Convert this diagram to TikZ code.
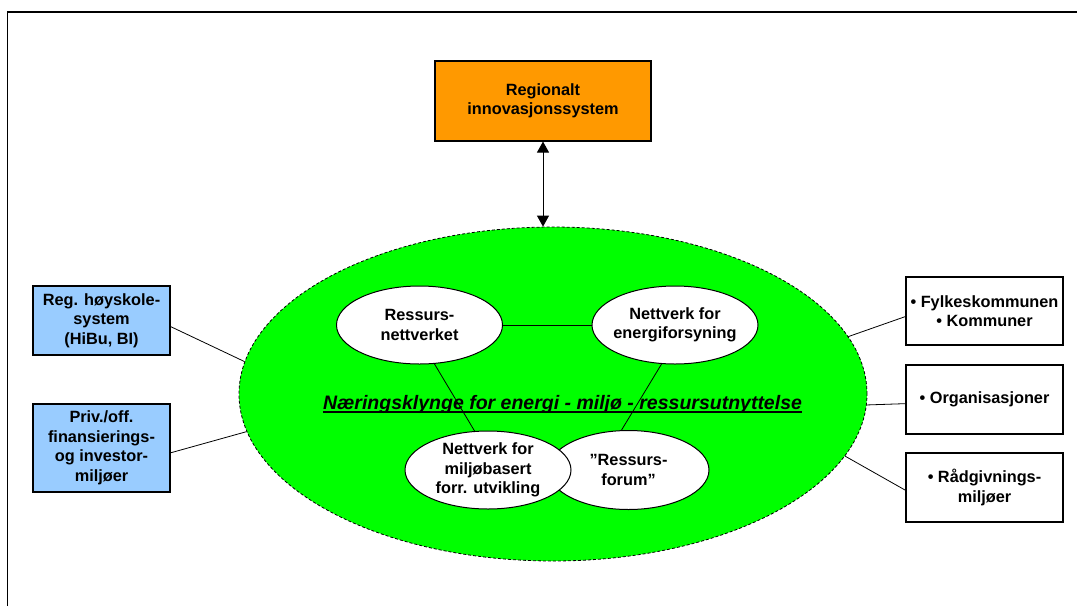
\documentclass[tikz,border=0pt]{standalone}
\usepackage{fontspec}
\setmainfont{Liberation Sans}
\usetikzlibrary{shapes.geometric,arrows.meta}
\definecolor{orangebox}{HTML}{FF9900}
\definecolor{bluebox}{HTML}{99CCFF}
\definecolor{clustergreen}{HTML}{00FF00}
\begin{document}
\begin{tikzpicture}[x=1pt,y=-1pt,
  txt/.style={font=\fontsize{16.3}{19.5}\selectfont\bfseries, align=center, inner sep=0pt},
  box/.style={txt, draw=black, line width=1.1pt, rectangle, minimum width=157, minimum height=68},
  lbox/.style={box, fill=bluebox, minimum width=137},
  ell/.style={txt, draw=black, line width=1pt, ellipse, fill=white, inner xsep=-6pt, minimum width=166, minimum height=78},
  conn/.style={draw=black, line width=0.8pt},
]
\useasboundingbox (0,0) rectangle (1077,606);
\draw[line width=1.6pt] (7.5,606) -- (7.5,12) -- (1077,12);

% top box
\node[box, fill=orangebox, minimum width=216, minimum height=80] (reg) at (543,101) {Regionalt\\innovasjonssystem};

% cluster
\node[ellipse, draw=black, dash pattern=on 3pt off 2pt, line width=0.8pt, fill=clustergreen,
      minimum width=628, minimum height=334, inner sep=0pt] (cl) at (553,394) {};

\draw[line width=1pt, {Triangle[length=11pt,width=12pt]}-{Triangle[length=11pt,width=12pt]}]
  (reg.south) -- (reg.south |- cl.north);

% inner ellipses
\node[ell] (rn) at (419.5,325) {Ressurs-\\nettverket};
\node[ell] (ef) at (675,325) {Nettverk for\\energiforsyning};
\node[ell, minimum width=161, minimum height=79] (rf) at (628.5,470) {”Ressurs-\\forum”};
\node[ell] (mb) at (488,470) {Nettverk for\\miljøbasert\\forr. utvikling};

% central text
\node[font=\fontsize{19.5}{23}\selectfont\bfseries\itshape, inner sep=0pt, anchor=base] (ct) at (562.5,409)
  {Næringsklynge for energi - miljø - ressursutnyttelse};
\draw[line width=1.3pt] ([yshift=-3pt]ct.base west) -- ([yshift=-3pt]ct.base east);

\draw[conn] (rn.east) -- (ef.west);
\draw[conn] (rn.-69) -- (mb.109);
\draw[conn] (ef.-109) -- (rf.100);

% left boxes
\node[lbox, minimum height=69] (b1) at (101.5,320.5) {Reg. høyskole-\\system\\(HiBu, BI)};
\node[lbox, minimum height=88] (b2) at (101.5,448) {Priv./off.\\finansierings-\\og investor-\\miljøer};

% right boxes
\node[box] (ba) at (984.5,311) {• Fylkeskommunen\\• Kommuner};
\node[box, minimum height=69] (bb) at (984.5,399.5) {• Organisasjoner};
\node[box, minimum height=69] (bc) at (984.5,487.5) {• Rådgivnings-\\miljøer};

\draw[conn] (b1.-5.4) -- (cl.174.5);
\draw[conn] (b2.-4.2) -- (cl.187.5);
\draw[conn] (ba.184.4) -- (cl.11.3);
\draw[conn] (bb.183.3) -- (cl.-2);
\draw[conn] (bc.182) -- (cl.-12.4);
\end{tikzpicture}
\end{document}
